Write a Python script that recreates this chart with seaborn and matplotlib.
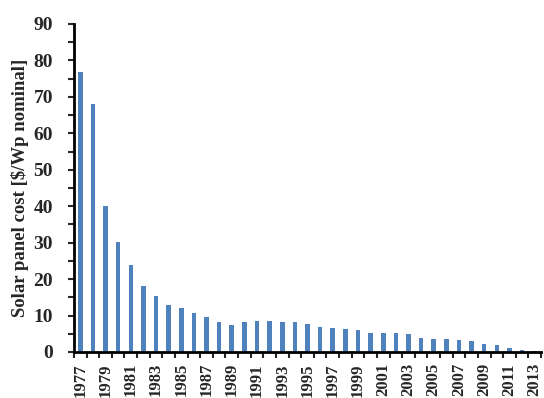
import numpy as np
import pandas as pd
import matplotlib
matplotlib.use("Agg")
import matplotlib.pyplot as plt
import seaborn as sns
from matplotlib.ticker import MultipleLocator, FixedLocator

# datos
years = list(range(1977, 2014))
cost = [76.7, 68.1, 40.0, 30.1, 24.0, 18.2, 15.3, 12.9, 12.0, 10.7,
        9.6, 8.2, 7.3, 8.2, 8.6, 8.6, 8.2, 8.2, 7.8, 6.9,
        6.7, 6.4, 6.1, 5.3, 5.3, 5.1, 5.0, 3.9, 3.5, 3.5,
        3.3, 2.9, 2.3, 1.8, 1.2, 0.6, 0.3]

df = pd.DataFrame({"year": [str(y) for y in years], "cost": cost})

sns.set_style("ticks")
plt.rcParams["font.family"] = ["Liberation Serif", "DejaVu Serif"]
plt.rcParams["font.weight"] = "bold"

fig = plt.figure(figsize=(5.44, 3.98), dpi=100)
ax = fig.add_axes([0.136, 0.1156, 0.8585, 0.8241])

sns.barplot(data=df, x="year", y="cost", color="#4F81BD", saturation=1,
            width=0.36, linewidth=0, ax=ax)

ax.set_xlim(-0.5, len(years) - 0.5)
ax.set_ylim(0, 90)
ax.yaxis.set_major_locator(MultipleLocator(10))
ax.yaxis.set_minor_locator(MultipleLocator(5))

# etiquetas cada dos anos, marcas entre categorias
pos = list(range(0, len(years), 2))
ax.set_xticks(pos)
ax.set_xticklabels([str(years[i]) for i in pos], rotation=90,
                   fontsize=12, fontweight="bold")
ax.xaxis.set_minor_locator(FixedLocator(np.arange(-0.5, len(years), 1)))
ax.tick_params(axis="x", which="major", length=0, pad=8)
ax.tick_params(axis="x", which="minor", length=4, width=1.5, direction="out")
ax.tick_params(axis="y", which="both", length=4, width=1.5, direction="out")
ax.tick_params(axis="y", which="major", pad=11)
for lab in ax.get_yticklabels():
    lab.set_fontsize(14)
    lab.set_fontweight("bold")

ax.set_xlabel("")
ax.set_ylabel("Solar panel cost [$/Wp nominal]", fontsize=13.5,
              fontweight="bold", labelpad=3)

sns.despine(ax=ax)
for s in ["left", "bottom"]:
    ax.spines[s].set_linewidth(2)
    ax.spines[s].set_color("black")

fig.savefig("out.png", dpi=100)
